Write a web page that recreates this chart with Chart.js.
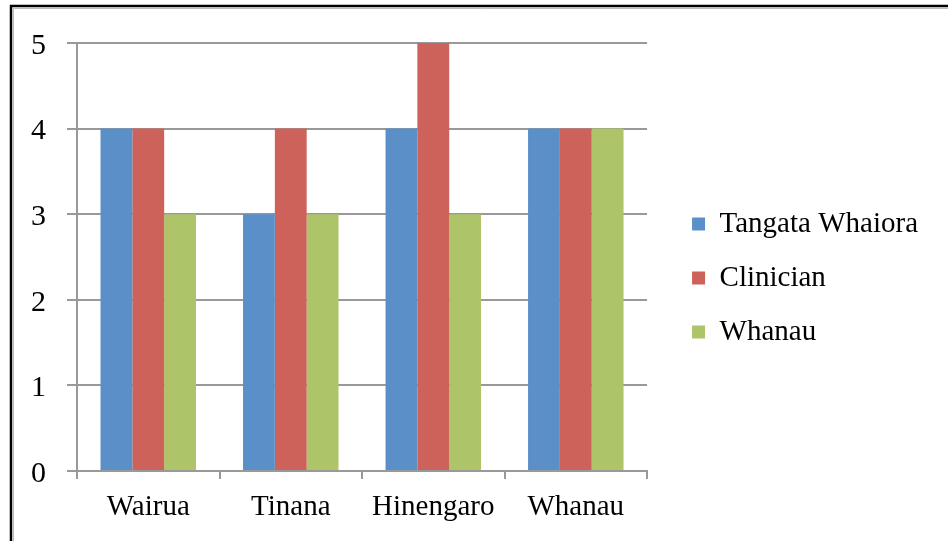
<!DOCTYPE html>
<html><head><meta charset="utf-8">
<script src="https://cdn.jsdelivr.net/npm/chart.js@4"></script>
<style>html,body{margin:0;padding:0;background:#fff;}#wrap{width:948px;height:541px;position:relative;}</style>
</head><body><div id="wrap"><canvas id="c" width="948" height="541"></canvas></div>
<script>
const categories = ["Wairua", "Tinana", "Hinengaro", "Whanau"];
const seriesNames = ["Tangata Whaiora", "Clinician", "Whanau"];
const tangataWhaiora = [4, 3, 4, 4];
const clinician = [4, 4, 5, 4];
const whanau = [3, 3, 3, 4];
const yTicks = [0, 1, 2, 3, 4, 5];
const colors = ["#5A8FC7", "#CD625A", "#AEC469"];
const FONT = "'Liberation Serif', 'Times New Roman', serif";

const frame = {
  id: 'frame',
  afterDraw(chart) {
    const ctx = chart.ctx;
    ctx.save();
    ctx.strokeStyle = '#000';
    ctx.lineWidth = 2.5;
    ctx.beginPath();
    ctx.moveTo(11, 545);
    ctx.lineTo(11, 6);
    ctx.lineTo(952, 6);
    ctx.stroke();
    ctx.strokeStyle = '#bbb';
    ctx.lineWidth = 1;
    ctx.beginPath();
    ctx.moveTo(13.5, 545);
    ctx.lineTo(13.5, 8.5);
    ctx.lineTo(952, 8.5);
    ctx.stroke();
    ctx.restore();
  }
};

new Chart(document.getElementById('c'), {
  type: 'bar',
  data: {
    labels: categories,
    datasets: [
      { label: seriesNames[0], data: tangataWhaiora, backgroundColor: colors[0], yAxisID: 'y' },
      { label: seriesNames[1], data: clinician, backgroundColor: colors[1], yAxisID: 'y' },
      { label: seriesNames[2], data: whanau, backgroundColor: colors[2], yAxisID: 'y' }
    ]
  },
  options: {
    responsive: false,
    animation: false,
    events: [],
    categoryPercentage: 0.67,
    barPercentage: 1.0,
    layout: { padding: { left: 0, top: 43, right: 20, bottom: 0 } },
    plugins: {
      tooltip: { enabled: false },
      legend: {
        position: 'right',
        align: 'center',
        fullSize: false,
        maxWidth: 400,
        title: { display: true, text: '', font: { size: 10, lineHeight: 1 }, padding: { top: 32, bottom: 0 } },
        labels: {
          boxWidth: 13, boxHeight: 13, padding: 25,
          color: '#000',
          font: { family: FONT, size: 29 }
        }
      }
    },
    scales: {
      x: {
        offset: true,
        grid: { display: true, drawOnChartArea: false, color: '#999', lineWidth: 2, tickLength: 8, offset: true },
        border: { display: true, color: '#999', width: 2 },
        ticks: { color: '#000', font: { family: FONT, size: 29 }, padding: 11, maxRotation: 0 },
        afterFit(s) { s.height = 70; }
      },
      y: {
        min: 0, max: 5,
        afterBuildTicks(s) { s.ticks = yTicks.map(v => ({ value: v })); },
        grid: { color: '#999', lineWidth: 2, tickLength: 10 },
        border: { display: true, color: '#999', width: 2 },
        ticks: { color: '#000', font: { family: FONT, size: 30 }, padding: 21, labelOffset: 3 },
        afterFit(s) { s.width = 77; }
      },
      gap: {
        type: 'linear',
        position: 'right',
        display: true,
        grid: { display: false },
        border: { display: false },
        ticks: { display: false },
        afterFit(s) { s.width = 20; }
      }
    }
  },
  plugins: [frame]
});
</script></body></html>
